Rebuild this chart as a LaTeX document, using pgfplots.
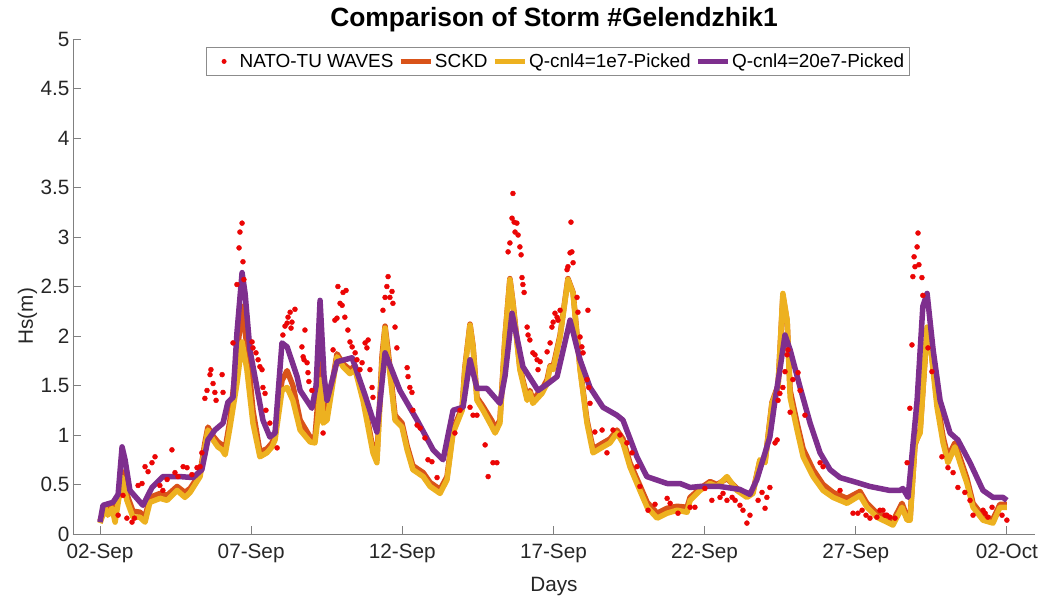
\documentclass[border=0pt]{standalone}
\usepackage{pgfplots}
\pgfplotsset{compat=1.18}
\usepackage{fontspec}
\setmainfont{Liberation Sans}

\definecolor{obsred}{rgb}{0.92,0.02,0.02}
\definecolor{sckdcol}{rgb}{0.85,0.325,0.098}
\definecolor{qonecol}{rgb}{0.929,0.694,0.125}
\definecolor{qtwentycol}{rgb}{0.494,0.184,0.556}
\definecolor{axtext}{rgb}{0.15,0.15,0.15}

% Observed significant wave height (days after 02-Sep 00:00, Hs in m)
\pgfplotstableread{
x y
0.60 0.19
0.76 0.39
0.89 0.16
1.06 0.12
1.14 0.16
1.26 0.49
1.39 0.51
1.49 0.68
1.59 0.63
1.72 0.72
1.82 0.78
1.98 0.49
2.08 0.44
2.22 0.55
2.38 0.85
2.48 0.62
2.58 0.58
2.75 0.68
2.88 0.67
3.04 0.60
3.21 0.67
3.31 0.68
3.37 0.82
3.47 1.37
3.54 1.45
3.64 1.61
3.67 1.66
3.74 1.52
3.80 1.43
3.84 1.35
4.04 1.61
4.07 1.43
4.40 1.93
4.53 2.52
4.60 2.89
4.63 3.05
4.70 3.14
4.73 2.75
4.76 2.57
5.03 1.94
5.06 1.88
5.16 1.83
5.23 1.76
5.29 1.69
5.36 1.66
5.39 1.48
5.46 1.42
5.49 1.25
5.62 1.12
5.86 0.87
6.05 2.01
6.12 2.10
6.19 2.13
6.22 2.19
6.29 2.24
6.32 2.08
6.35 2.14
6.45 2.27
6.68 1.89
6.72 1.79
6.78 2.06
6.75 1.76
6.85 1.73
6.88 1.63
6.91 1.54
7.01 1.45
7.38 1.02
7.71 1.86
7.77 2.16
7.84 2.18
7.87 2.50
7.94 2.33
8.01 2.31
8.04 2.44
8.10 2.19
8.14 2.46
8.20 2.06
8.27 1.94
8.34 1.89
8.44 1.83
8.50 1.76
8.60 1.66
8.67 1.73
8.77 1.93
8.83 1.88
8.87 1.96
8.93 1.66
9.00 1.48
9.03 1.38
9.36 2.26
9.43 2.39
9.49 2.50
9.53 2.60
9.59 2.39
9.66 2.45
9.69 2.33
9.76 2.09
9.82 1.88
10.16 1.68
10.19 1.59
10.25 1.48
10.32 1.43
10.35 1.25
10.49 1.10
10.59 1.07
10.75 0.97
10.85 0.75
10.98 0.73
11.15 0.57
11.74 1.02
11.91 1.25
12.24 1.28
12.34 1.20
12.47 1.20
12.74 0.90
12.84 0.58
13.00 0.72
13.13 0.72
13.50 2.85
13.56 2.94
13.63 3.19
13.66 3.44
13.70 3.15
13.73 3.05
13.79 3.14
13.83 3.02
13.89 2.90
13.93 2.82
13.96 2.59
13.99 2.52
14.03 2.44
14.13 2.09
14.16 2.01
14.22 1.96
14.32 1.83
14.39 1.81
14.46 1.76
14.49 1.66
14.56 1.74
14.79 1.84
14.89 1.93
14.95 2.09
14.99 2.14
15.05 2.23
15.12 2.19
15.15 2.16
15.22 2.26
15.45 2.67
15.48 2.70
15.55 2.84
15.58 3.15
15.61 2.85
15.65 2.74
15.78 2.39
15.81 2.24
15.88 1.99
15.94 1.89
15.98 1.83
16.11 1.56
16.14 2.26
16.17 1.48
16.21 1.32
16.37 1.03
16.61 1.05
16.77 0.82
16.97 1.05
17.20 1.00
17.43 0.92
17.60 0.82
17.76 0.68
17.86 0.48
18.13 0.24
18.36 0.30
18.76 0.36
18.86 0.31
19.12 0.21
19.52 0.27
19.68 0.27
20.01 0.46
20.24 0.34
20.51 0.37
20.61 0.41
20.74 0.34
20.91 0.37
21.01 0.34
21.17 0.29
21.27 0.24
21.40 0.11
21.50 0.19
21.77 0.34
21.90 0.42
22.00 0.26
22.06 0.37
22.16 0.47
22.33 0.92
22.40 0.95
22.43 1.35
22.49 1.42
22.59 1.48
22.66 1.64
22.73 1.81
22.76 1.86
22.83 1.23
22.92 1.56
23.09 1.63
23.16 1.45
23.32 1.20
23.82 0.72
23.92 0.68
24.48 0.44
24.91 0.21
25.07 0.21
25.21 0.24
25.34 0.19
25.47 0.16
25.70 0.17
25.80 0.24
25.90 0.24
25.97 0.19
26.03 0.19
26.13 0.17
26.30 0.16
26.70 0.72
26.79 1.27
26.86 1.91
26.89 2.60
26.93 2.80
26.96 2.70
27.03 2.90
27.06 3.04
27.09 2.72
27.19 2.59
27.22 2.41
27.39 1.88
27.52 1.64
27.85 0.78
28.05 0.67
28.22 0.62
28.38 0.47
28.61 0.42
28.78 0.34
28.88 0.19
29.21 0.24
29.28 0.21
29.37 0.17
29.51 0.27
29.84 0.19
30.00 0.14
}\obsdata

% Model runs: Q-cnl4=1e7 and SCKD on a common time axis
\pgfplotstableread{
x q1 sckd
0.00 0.11 0.13
0.17 0.26 0.29
0.26 0.19 0.23
0.40 0.26 0.30
0.50 0.12 0.16
0.73 0.57 0.63
0.89 0.34 0.40
1.09 0.17 0.23
1.32 0.17 0.22
1.49 0.12 0.17
1.65 0.32 0.37
1.99 0.36 0.41
2.22 0.34 0.39
2.55 0.44 0.48
2.81 0.37 0.42
2.98 0.42 0.46
3.31 0.58 0.61
3.47 0.88 0.92
3.57 1.05 1.08
3.74 0.95 0.99
3.90 0.88 0.93
4.04 0.85 0.90
4.14 0.80 0.86
4.30 1.08 1.15
4.53 1.52 1.80
4.70 1.94 2.30
4.86 1.66 1.90
5.06 1.12 1.25
5.29 0.78 0.83
5.52 0.82 0.86
5.69 0.88 0.92
5.79 0.95 1.00
6.02 1.45 1.55
6.19 1.48 1.65
6.38 1.35 1.50
6.62 1.05 1.15
6.95 0.93 0.98
7.11 0.92 0.97
7.21 1.18 1.35
7.31 1.56 1.80
7.38 1.12 1.30
7.51 1.15 1.20
7.68 1.48 1.52
7.84 1.79 1.82
8.04 1.69 1.72
8.27 1.62 1.66
8.44 1.66 1.70
8.70 1.35 1.40
9.03 0.82 0.86
9.16 0.72 0.76
9.33 1.73 1.80
9.43 2.08 2.10
9.53 1.79 1.85
9.76 1.15 1.20
9.99 1.08 1.12
10.16 0.85 0.89
10.35 0.65 0.69
10.69 0.58 0.62
10.92 0.48 0.52
11.25 0.41 0.45
11.48 0.55 0.58
11.68 1.02 1.05
11.98 1.25 1.28
12.07 1.66 1.68
12.24 2.11 2.12
12.34 1.89 1.90
12.47 1.35 1.38
12.67 1.25 1.29
12.97 1.08 1.14
13.07 1.02 1.06
13.23 1.12 1.15
13.40 1.99 2.00
13.56 2.57 2.58
13.66 2.33 2.34
13.89 1.66 1.68
14.13 1.35 1.38
14.22 1.43 1.45
14.32 1.32 1.36
14.62 1.42 1.46
14.79 1.52 1.56
14.89 1.69 1.70
14.99 1.66 1.69
15.22 1.99 2.01
15.48 2.57 2.58
15.65 2.43 2.44
15.88 1.66 1.68
16.11 1.12 1.15
16.31 0.82 0.86
16.64 0.88 0.92
16.87 0.92 0.96
17.10 1.02 1.05
17.30 0.92 0.96
17.53 0.68 0.72
17.86 0.44 0.49
18.10 0.27 0.32
18.43 0.16 0.21
18.76 0.21 0.26
19.09 0.24 0.28
19.42 0.22 0.27
19.52 0.34 0.37
19.85 0.44 0.46
20.18 0.51 0.53
20.41 0.48 0.50
20.74 0.58 0.56
21.07 0.44 0.46
21.40 0.37 0.40
21.60 0.41 0.43
21.83 0.75 0.74
22.00 0.72 0.73
22.23 1.32 1.33
22.43 1.48 1.50
22.59 2.43 2.40
22.73 2.16 2.15
22.83 1.38 1.45
23.06 1.05 1.12
23.26 0.78 0.86
23.59 0.58 0.65
23.92 0.44 0.50
24.25 0.37 0.42
24.71 0.31 0.36
25.14 0.39 0.43
25.37 0.27 0.31
25.70 0.17 0.21
26.23 0.09 0.13
26.53 0.27 0.31
26.70 0.14 0.17
26.80 0.14 0.17
26.96 0.92 0.90
27.13 1.02 1.05
27.36 2.09 2.06
27.46 1.93 1.95
27.69 1.28 1.35
27.89 0.92 0.98
28.05 0.72 0.78
28.28 0.88 0.92
28.45 0.72 0.77
28.68 0.51 0.56
28.88 0.27 0.31
29.21 0.14 0.18
29.54 0.11 0.15
29.77 0.27 0.30
30.00 0.27 0.30
}\modeldata

% Model run: Q-cnl4=20e7
\pgfplotstableread{
x y
0.00 0.12
0.10 0.29
0.43 0.32
0.60 0.40
0.73 0.88
0.83 0.75
0.99 0.44
1.42 0.29
1.72 0.47
2.08 0.58
2.65 0.58
3.08 0.57
3.37 0.65
3.57 0.95
3.80 1.05
4.07 1.12
4.23 1.33
4.40 1.38
4.53 2.03
4.70 2.64
4.80 2.43
4.96 1.86
5.19 1.48
5.39 1.15
5.62 0.98
5.79 1.02
6.02 1.93
6.19 1.89
6.52 1.59
6.62 1.45
7.01 1.27
7.15 1.50
7.28 2.36
7.41 1.60
7.51 1.35
7.84 1.74
8.34 1.78
8.77 1.40
9.16 1.03
9.43 1.83
9.92 1.45
10.49 1.15
11.02 0.85
11.35 0.75
11.68 1.25
12.01 1.28
12.24 1.76
12.47 1.47
12.80 1.47
13.23 1.32
13.40 1.60
13.63 2.23
13.99 1.69
14.49 1.45
14.82 1.52
15.12 1.59
15.55 2.16
15.88 1.76
16.21 1.48
16.64 1.28
17.10 1.20
17.30 1.15
17.76 0.78
18.09 0.58
18.76 0.51
19.19 0.51
19.52 0.47
19.85 0.48
20.51 0.48
21.17 0.45
21.50 0.40
21.73 0.55
22.16 0.98
22.33 1.35
22.49 1.66
22.66 2.01
22.83 1.86
23.16 1.48
23.49 1.12
23.82 0.82
24.15 0.65
24.48 0.57
25.04 0.52
25.47 0.48
26.13 0.44
26.46 0.44
26.56 0.46
26.73 0.37
27.03 1.35
27.22 2.30
27.36 2.43
27.56 1.86
27.79 1.35
28.12 1.02
28.38 0.95
28.78 0.72
29.21 0.44
29.54 0.37
29.87 0.37
30.00 0.34
}\qtwentydata

\begin{document}
\begin{tikzpicture}
\begin{axis}[
  at={(0,0)}, anchor=south west,
  scale only axis, width=962bp, height=495bp,
  xmin=-0.893, xmax=30.93, ymin=0, ymax=5,
  axis x line*=bottom, axis y line*=left,
  axis line style={black!50, line width=0.8bp},
  tick align=inside, major tick length=8bp,
  tick style={black!50, line width=0.8bp},
  xtick={0,5,...,30},
  xticklabels={02-Sep,07-Sep,12-Sep,17-Sep,22-Sep,27-Sep,02-Oct},
  ytick={0,0.5,...,5},
  /pgf/number format/assume math mode=true,
  ticklabel style={font=\fontsize{20.8}{24}\selectfont, text=axtext},
  xticklabel style={yshift=-7bp},
  title={Comparison of Storm \#Gelendzhik1},
  title style={font=\bfseries\fontsize{26.5}{30}\selectfont, at={(0.5,1)}, anchor=base, yshift=7bp},
  xlabel={Days},
  xlabel style={font=\fontsize{20.8}{24}\selectfont, text=axtext, at={(0.5,0)}, anchor=base, yshift=-57bp},
  ylabel={Hs(m)},
  ylabel style={font=\fontsize{20.8}{24}\selectfont, text=axtext, at={(-0.0416,0.44)}, anchor=base},
  legend columns=-1,
  legend style={at={(0.504,0.984)}, anchor=north, draw=black!45, line width=0.8bp,
    fill=white, font=\fontsize{19}{22}\selectfont, text=black,
    inner xsep=4bp, inner ysep=5bp,
    nodes={inner sep=1.5bp},
    /tikz/every even column/.append style={column sep=3bp}},
  legend image code/.code={\draw[#1, line cap=butt] (0bp,0bp) -- (30bp,0bp);},
  every axis plot/.append style={line join=round},
]
\addplot[only marks, mark=*, mark size=2.5bp, obsred, draw=none,
  legend image code/.code={\path (0bp,0bp) -- (28bp,0bp); \fill[obsred] (14bp,0bp) circle (2.5bp);}]
  table[x=x, y=y] {\obsdata};
\addlegendentry{NATO-TU WAVES}
\addplot[sckdcol, line width=5.5bp] table[x=x, y=sckd] {\modeldata};
\addlegendentry{SCKD}
\addplot[qonecol, line width=5.5bp] table[x=x, y=q1] {\modeldata};
\addlegendentry{Q-cnl4=1e7-Picked}
\addplot[qtwentycol, line width=5.5bp] table[x=x, y=y] {\qtwentydata};
\addlegendentry{Q-cnl4=20e7-Picked}
\end{axis}
\pgfresetboundingbox
\useasboundingbox (-73bp,-67bp) rectangle (970bp,534bp);
\end{tikzpicture}
\end{document}
